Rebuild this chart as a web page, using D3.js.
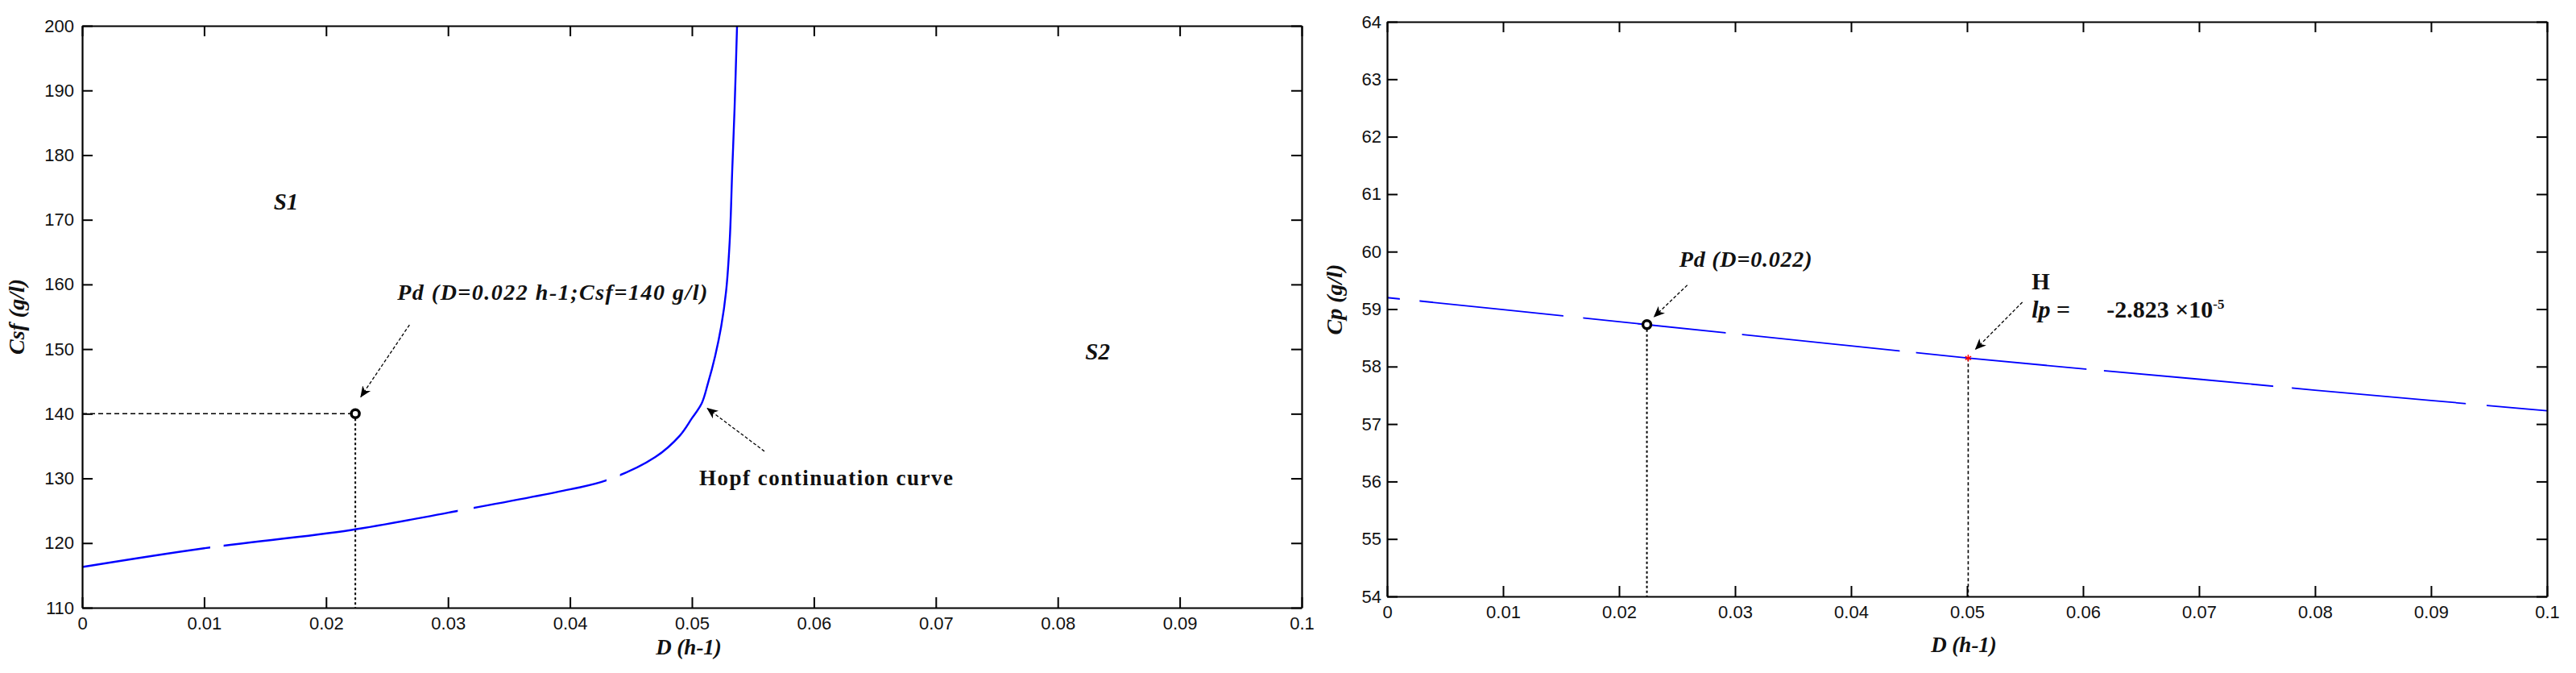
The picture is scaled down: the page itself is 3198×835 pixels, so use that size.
<!DOCTYPE html>
<html>
<head>
<meta charset="utf-8">
<script src="https://cdn.jsdelivr.net/npm/d3@7"></script>
<style>
  body { margin: 0; background: #fff; }
  .tick text { font-family: "Liberation Sans", Arial, sans-serif; font-size: 22px; fill: #111; }
  .ann { font-family: "Liberation Serif", "Times New Roman", serif; font-weight: bold; fill: #111; }
</style>
</head>
<body>
<svg width="3198" height="835"></svg>
<script>
// left panel: Hopf continuation curve (D, Csf)
const hopfD   = [0, 0.01, 0.022, 0.03, 0.04, 0.043, 0.047, 0.049, 0.05, 0.0508, 0.0513, 0.0519, 0.0524, 0.0528, 0.0531, 0.0533, 0.0535, 0.0537]
const hopfCsf = [116.3, 119.2, 122.0, 124.7, 128.3, 129.7, 133.3, 136.6, 139.3, 141.6, 144.6, 148.9, 153.5, 158.9, 166.8, 177.4, 187.4, 200]
const hopfGaps = [[0.0105, 0.0116], [0.0308, 0.0321], [0.0430, 0.0441]]

// right panel: Cp against D
const cpD   = [0, 0.01, 0.02, 0.03, 0.04, 0.05, 0.06, 0.07, 0.08, 0.09, 0.1]
const cpVal = [59.20, 58.99, 58.78, 58.57, 58.36, 58.15, 57.96, 57.78, 57.59, 57.41, 57.23]
const cpGaps = [[0.0011, 0.0028], [0.0152, 0.0169], [0.0292, 0.0306], [0.0442, 0.0456], [0.0603, 0.0618], [0.0764, 0.0780], [0.0930, 0.0948]]

// special points
const pdD = 0.0224, pdCsf = 140
const hD = 0.0501

const xTicks = [0, 0.01, 0.02, 0.03, 0.04, 0.05, 0.06, 0.07, 0.08, 0.09, 0.1]
const xTickLabels = ["0", "0.01", "0.02", "0.03", "0.04", "0.05", "0.06", "0.07", "0.08", "0.09", "0.1"]
const csfTicks = [110, 120, 130, 140, 150, 160, 170, 180, 190, 200]
const cpTicks = [54, 55, 56, 57, 58, 59, 60, 61, 62, 63, 64]

const svg = d3.select("svg")

const defs = svg.append("defs")
defs.append("marker")
  .attr("id", "arrow")
  .attr("viewBox", "-14 -7 16 14")
  .attr("markerUnits", "userSpaceOnUse")
  .attr("markerWidth", 16)
  .attr("markerHeight", 14)
  .attr("refX", 0)
  .attr("refY", 0)
  .attr("orient", "auto")
  .append("path")
  .attr("d", "M0,0 L-14,-6 L-10,0 L-14,6 Z")
  .attr("fill", "#000")

function drawAxes(g, x, y, w, h, yTicks, yPad) {
  g.append("g")
    .attr("transform", `translate(0,${h})`)
    .call(d3.axisBottom(x).tickValues(xTicks).tickFormat((d, i) => xTickLabels[i])
      .tickSizeInner(-13).tickSizeOuter(0).tickPadding(11))
  g.append("g")
    .call(d3.axisTop(x).tickValues(xTicks).tickFormat("").tickSizeInner(-13).tickSizeOuter(0))
  g.append("g")
    .call(d3.axisLeft(y).tickValues(yTicks).tickSizeInner(-13).tickSizeOuter(0).tickPadding(yPad))
  g.append("g")
    .attr("transform", `translate(${w},0)`)
    .call(d3.axisRight(y).tickValues(yTicks).tickFormat("").tickSizeInner(-13).tickSizeOuter(0))
  g.selectAll(".domain").attr("stroke", "#000").attr("stroke-width", 2.2)
  g.selectAll(".tick line").attr("stroke", "#000").attr("stroke-width", 2)
}

function gapMask(id, x, w, h, gaps) {
  const m = defs.append("mask").attr("id", id)
  m.append("rect").attr("x", -50).attr("y", -50).attr("width", w + 100).attr("height", h + 100).attr("fill", "#fff")
  m.selectAll("rect.gap")
    .data(gaps)
    .enter()
    .append("rect")
    .attr("class", "gap")
    .attr("x", d => x(d[0]))
    .attr("y", -50)
    .attr("width", d => x(d[1]) - x(d[0]))
    .attr("height", h + 100)
    .attr("fill", "#000")
}

function arrow(g, x1, y1, x2, y2) {
  g.append("line")
    .attr("x1", x1).attr("y1", y1).attr("x2", x2).attr("y2", y2)
    .attr("stroke", "#000").attr("stroke-width", 1.3)
    .attr("stroke-dasharray", "4 2.5")
    .attr("marker-end", "url(#arrow)")
}

// ---------- left panel ----------
{
  const left = 102, top = 32, w = 1514, h = 722
  const x = d3.scaleLinear().domain([0, 0.1]).range([0, w])
  const y = d3.scaleLinear().domain([110, 200]).range([h, 0])
  const g = svg.append("g").attr("transform", `translate(${left},${top})`)

  gapMask("gapL", x, w, h, hopfGaps)

  // reference lines to Pd
  g.append("line")
    .attr("x1", x(0)).attr("x2", x(pdD)).attr("y1", y(pdCsf)).attr("y2", y(pdCsf))
    .attr("stroke", "#000").attr("stroke-width", 1.5).attr("stroke-dasharray", "6 4")
  g.append("line")
    .attr("x1", x(pdD)).attr("x2", x(pdD)).attr("y1", y(pdCsf)).attr("y2", y(110))
    .attr("stroke", "#000").attr("stroke-width", 2).attr("stroke-dasharray", "3 3")

  const line = d3.line()
    .x((d, i) => x(hopfD[i]))
    .y(d => y(d))
    .curve(d3.curveCatmullRom.alpha(0.5))

  g.append("path")
    .datum(hopfCsf)
    .attr("d", line)
    .attr("fill", "none")
    .attr("stroke", "#0000ff")
    .attr("stroke-width", 2.4)
    .attr("mask", "url(#gapL)")

  drawAxes(g, x, y, w, h, csfTicks, 10)

  g.append("circle")
    .attr("cx", x(pdD)).attr("cy", y(pdCsf)).attr("r", 5)
    .attr("fill", "#fff").attr("stroke", "#000").attr("stroke-width", 3.5)

  g.append("text").attr("class", "ann").attr("font-style", "italic").attr("font-size", 29)
    .attr("x", x(0.0157)).attr("y", y(171.6)).text("S1")
  g.append("text").attr("class", "ann").attr("font-style", "italic").attr("font-size", 29)
    .attr("x", x(0.08225)).attr("y", y(148.4)).text("S2")
  g.append("text").attr("class", "ann").attr("font-style", "italic").attr("font-size", 28)
    .attr("letter-spacing", 1.5)
    .attr("x", x(0.02584)).attr("y", y(157.6)).text("Pd (D=0.022 h-1;Csf=140 g/l)")
  g.append("text").attr("class", "ann").attr("font-size", 27)
    .attr("x", x(0.0506)).attr("y", y(129.0)).attr("letter-spacing", 1.5).text("Hopf continuation curve")

  arrow(g, x(0.02684), y(153.75), x(0.02281), y(142.5))
  arrow(g, x(0.05594), y(134.2), x(0.05121), y(140.9))

  g.append("text").attr("class", "ann").attr("font-style", "italic").attr("font-size", 28)
    .attr("text-anchor", "middle")
    .attr("transform", `translate(${-72},${h / 2}) rotate(-90)`)
    .text("Csf (g/l)")
  g.append("text").attr("class", "ann").attr("font-style", "italic").attr("font-size", 27)
    .attr("text-anchor", "middle")
    .attr("x", w / 2 - 4).attr("y", h + 58)
    .text("D (h-1)")
}

// ---------- right panel ----------
{
  const left = 1722, top = 27, w = 1440, h = 713
  const x = d3.scaleLinear().domain([0, 0.1]).range([0, w])
  const y = d3.scaleLinear().domain([54, 64]).range([h, 0])
  const g = svg.append("g").attr("transform", `translate(${left},${top})`)

  gapMask("gapR", x, w, h, cpGaps)

  const line = d3.line()
    .x((d, i) => x(cpD[i]))
    .y(d => y(d))

  const cpAt = d => {
    const i = d3.bisectRight(cpD, d) - 1
    const t = (d - cpD[i]) / (cpD[i + 1] - cpD[i])
    return cpVal[i] + t * (cpVal[i + 1] - cpVal[i])
  }

  g.append("line")
    .attr("x1", x(pdD)).attr("x2", x(pdD)).attr("y1", y(cpAt(pdD))).attr("y2", y(54))
    .attr("stroke", "#000").attr("stroke-width", 2).attr("stroke-dasharray", "3 3")
  g.append("line")
    .attr("x1", x(hD)).attr("x2", x(hD)).attr("y1", y(cpAt(hD))).attr("y2", y(54))
    .attr("stroke", "#000").attr("stroke-width", 1.6).attr("stroke-dasharray", "4 3")

  g.append("path")
    .datum(cpVal)
    .attr("d", line)
    .attr("fill", "none")
    .attr("stroke", "#0000ff")
    .attr("stroke-width", 1.8)
    .attr("mask", "url(#gapR)")

  drawAxes(g, x, y, w, h, cpTicks, 7)

  g.append("circle")
    .attr("cx", x(pdD)).attr("cy", y(cpAt(pdD))).attr("r", 5)
    .attr("fill", "#fff").attr("stroke", "#000").attr("stroke-width", 3.5)
  g.append("path")
    .attr("transform", `translate(${x(hD)},${y(cpAt(hD))})`)
    .attr("d", d3.symbol(d3.symbolAsterisk, 50)())
    .attr("fill", "none").attr("stroke", "#ff0000").attr("stroke-width", 1.5)

  g.append("text").attr("class", "ann").attr("font-style", "italic").attr("font-size", 28)
    .attr("letter-spacing", 0.8)
    .attr("x", x(0.02519)).attr("y", y(59.74)).text("Pd (D=0.022)")
  arrow(g, x(0.02588), y(59.416), x(0.02297), y(58.855))

  g.append("text").attr("class", "ann").attr("font-size", 29)
    .attr("x", x(0.05557)).attr("y", y(59.346)).text("H")
  const lp = g.append("text").attr("class", "ann").attr("font-size", 30)
    .attr("x", x(0.05557)).attr("y", y(58.855))
  lp.append("tspan").attr("font-style", "italic").text("lp")
  lp.append("tspan").text(" =")
  const val = g.append("text").attr("class", "ann").attr("font-size", 30)
    .attr("x", x(0.06203)).attr("y", y(58.855))
  val.append("tspan").text("-2.823 ×10")
  val.append("tspan").attr("font-size", 17).attr("dy", -11).text("-5")
  arrow(g, x(0.05477), y(59.12), x(0.05068), y(58.29))

  g.append("text").attr("class", "ann").attr("font-style", "italic").attr("font-size", 28)
    .attr("text-anchor", "middle")
    .attr("transform", `translate(${-56},${h / 2 - 12}) rotate(-90)`)
    .text("Cp (g/l)")
  g.append("text").attr("class", "ann").attr("font-style", "italic").attr("font-size", 27)
    .attr("text-anchor", "middle")
    .attr("x", w / 2 - 4).attr("y", h + 69)
    .text("D (h-1)")
}
</script>
</body>
</html>
